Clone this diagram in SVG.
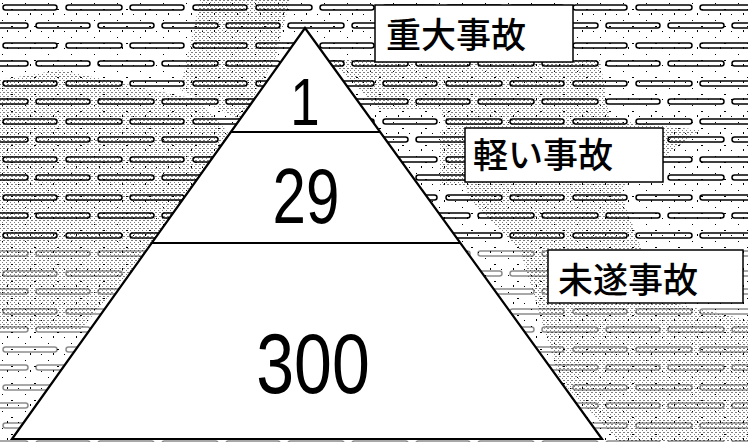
<svg xmlns="http://www.w3.org/2000/svg" width="748" height="442" viewBox="0 0 748 442">
  <defs>
    <pattern id="bars" x="0" y="0" width="190" height="38" patternUnits="userSpaceOnUse">
      <rect x="3" y="5" width="54" height="5" rx="2.5" fill="none" stroke="#000" stroke-width="1.5"/>
      <rect x="66" y="5" width="56" height="5" rx="2.5" fill="none" stroke="#000" stroke-width="1.5"/>
      <rect x="130" y="5" width="54" height="5" rx="2.5" fill="none" stroke="#000" stroke-width="1.5"/>
      <rect x="-28" y="23" width="56" height="5" rx="2.5" fill="none" stroke="#000" stroke-width="1.5"/>
      <rect x="36" y="23" width="54" height="5" rx="2.5" fill="none" stroke="#000" stroke-width="1.5"/>
      <rect x="98" y="23" width="56" height="5" rx="2.5" fill="none" stroke="#000" stroke-width="1.5"/>
      <rect x="162" y="23" width="56" height="5" rx="2.5" fill="none" stroke="#000" stroke-width="1.5"/>
    </pattern>
    <pattern id="stipple" x="0" y="0" width="4" height="4" patternUnits="userSpaceOnUse">
      <rect x="0" y="0" width="1" height="1" fill="#000"/>
      <rect x="2" y="2" width="1" height="1" fill="#000"/>
      <rect x="3" y="0" width="1" height="1" fill="#000"/>
    </pattern>
    <pattern id="specks" x="0" y="0" width="23" height="17" patternUnits="userSpaceOnUse">
      <rect x="2" y="3" width="1" height="1" fill="#000"/>
      <rect x="11" y="9" width="2" height="1" fill="#000"/>
      <rect x="18" y="14" width="1" height="1" fill="#000"/>
      <rect x="7" y="13" width="1" height="2" fill="#000"/>
    </pattern>
    <style>
      .tri { fill: #fff; stroke: none; }
      .edge { fill: none; stroke: #000; stroke-width: 2.2; }
      .div { stroke: #000; stroke-width: 2; }
      .box { fill: #fff; stroke: #000; stroke-width: 1.5; }
      .lbl { font-family: "Noto Sans CJK JP", "Noto Sans CJK SC", sans-serif; font-size: 35px; font-weight: 500; fill: #000; }
      .num { font-family: "Liberation Sans", Arial, sans-serif; fill: #000; text-anchor: middle; }
    </style>
  </defs>

  <!-- background -->
  <rect x="0" y="0" width="748" height="442" fill="#fff"/>
  <rect x="0" y="0" width="748" height="442" fill="url(#bars)"/>
  <rect x="0" y="240" width="748" height="202" fill="#fff" opacity="0.55"/>
  <rect x="0" y="0" width="748" height="442" fill="url(#specks)"/>
  <g fill="url(#stipple)" opacity="0.5">
    <polygon points="0,80 60,70 200,100 230,135 150,250 80,330 0,330"/>
    <polygon points="200,0 290,0 275,60 240,120 180,90"/>
    <polygon points="330,60 380,110 440,110 470,200 520,250 560,380 620,442 748,442 748,320 660,300 620,190 700,130 610,120 600,60"/>
    <polygon points="440,130 466,130 466,185 440,185"/>
  </g>

  <!-- pyramid -->
  <g id="tier1">
    <polygon class="tri" points="305,28 231,132 380,132"/>
    <text class="num" font-size="66" transform="translate(305,125) scale(0.8,1)">1</text>
  </g>
  <g id="tier2">
    <polygon class="tri" points="231,132 380,132 460,243 152,243"/>
    <text class="num" font-size="78" transform="translate(306,223) scale(0.77,1)">29</text>
  </g>
  <g id="tier3">
    <polygon class="tri" points="152,243 460,243 602,439 12,439"/>
    <text class="num" font-size="85" transform="translate(313,393) scale(0.8,1)">300</text>
  </g>

  <g id="connectors">
    <polygon class="edge" points="305,28 602,439 12,439"/>
    <line class="div" x1="231" y1="132" x2="380" y2="132"/>
    <line class="div" x1="152" y1="243" x2="460" y2="243"/>
  </g>

  <!-- labels -->
  <g id="label-major">
    <rect class="box" x="375" y="5" width="198" height="57"/>
    <text class="lbl" x="386" y="48">重大事故</text>
  </g>
  <g id="label-minor">
    <rect class="box" x="465" y="128" width="198" height="54"/>
    <text class="lbl" x="473" y="168">軽い事故</text>
  </g>
  <g id="label-near">
    <rect class="box" x="548" y="250" width="195" height="53"/>
    <text class="lbl" x="558" y="293" font-size="36">未遂事故</text>
  </g>
</svg>
